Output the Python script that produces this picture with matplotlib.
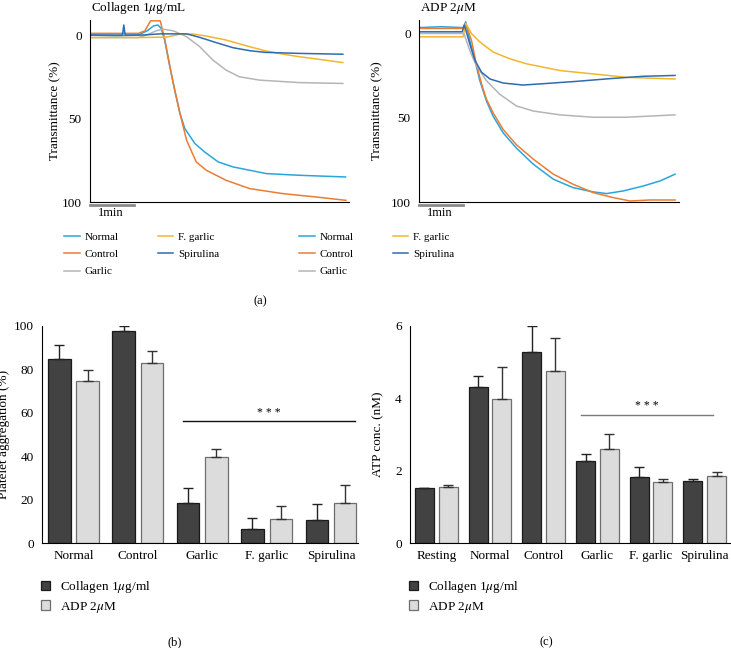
import numpy as np
import matplotlib.pyplot as plt

plt.rcParams['font.family'] = ['Liberation Serif', 'DejaVu Serif']
plt.rcParams['mathtext.fontset'] = 'stix'
plt.rcParams['font.size'] = 9

# ---- (a) aggregation traces, time in min, transmittance in % ----
names = ['Normal', 'Control', 'Garlic', 'F. garlic', 'Spirulina']
colors = ['#2aa5dc', '#ec7c31', '#b5b5b5', '#f2b62e', '#2d6cb0']

coll_normal_t = [0, 0.6, 1.1, 1.3, 1.45, 1.55, 1.62, 1.7, 1.82, 1.93, 2.05, 2.16, 2.39, 2.61, 2.92, 3.26, 3.64, 4.02, 4.77, 5.82]
coll_normal_y = [0, 0.5, 0, -2.5, -5.5, -6, -4, 3, 19, 33, 47, 56, 65, 70, 76, 79, 81, 83, 84, 85]
coll_control_t = [0, 0.6, 1.1, 1.25, 1.38, 1.6, 1.7, 1.82, 1.93, 2.05, 2.2, 2.42, 2.65, 3.1, 3.64, 4.4, 5.15, 5.83]
coll_control_y = [-1, -1, -1, -2.5, -8.5, -8.5, 2, 19, 33, 47, 63, 76, 81, 87, 92, 95, 97, 99]
coll_garlic_t = [0, 0.6, 1.1, 1.3, 1.5, 1.67, 1.9, 2.2, 2.5, 2.8, 3.1, 3.4, 3.86, 4.77, 5.76]
coll_garlic_y = [1.5, 1.5, 1.5, 0, -2.5, -3.5, -2.5, 1, 7, 15, 21, 25, 27, 28.5, 29]
coll_fgarlic_t = [0, 0.6, 1.2, 1.75, 2.05, 2.35, 2.65, 3.1, 3.64, 4.0, 4.4, 4.77, 5.2, 5.76]
coll_fgarlic_y = [1.5, 1.5, 1.5, 1.2, -0.5, -0.6, 0.6, 3, 7, 9.5, 11.5, 13, 14.5, 16.5]
coll_spir_t = [0, 0.74, 0.77, 0.8, 1.2, 1.6, 2.2, 2.5, 2.88, 3.26, 3.64, 4.0, 4.77, 5.76]
coll_spir_y = [0, 0, -6, 0, 0, -0.7, -0.7, 1.4, 4.6, 7.6, 9.4, 10.4, 11, 11.5]

adp_normal_t = [0, 0.5, 1.0, 1.06, 1.15, 1.27, 1.38, 1.53, 1.68, 1.91, 2.21, 2.59, 3.05, 3.5, 3.95, 4.26, 4.64, 5.09, 5.47, 5.81]
adp_normal_y = [-3.5, -4, -3.5, -7, 4, 16, 28, 40, 49, 59, 68, 77.5, 86.5, 91.5, 94, 95, 93.4, 90.5, 87.5, 83.5]
adp_control_t = [0, 0.5, 1.0, 1.06, 1.19, 1.3, 1.42, 1.53, 1.68, 1.91, 2.21, 2.59, 3.05, 3.5, 3.95, 4.41, 4.79, 5.24, 5.81]
adp_control_y = [-3, -3, -3, -6, 4, 18, 30, 39, 47, 57, 66, 74.5, 83.5, 89.5, 94.4, 97.4, 99.4, 98.8, 98.8]
adp_garlic_t = [0, 0.5, 1.02, 1.15, 1.3, 1.53, 1.83, 2.21, 2.59, 3.2, 3.95, 4.7, 5.81]
adp_garlic_y = [0, 0, 0, 10, 19, 28, 36, 43, 46, 48.3, 49.7, 49.7, 48.3]
adp_fgarlic_t = [0, 0.5, 1.0, 1.06, 1.19, 1.38, 1.68, 2.06, 2.44, 3.2, 3.95, 4.7, 5.81]
adp_fgarlic_y = [2, 2, 2, -6, 0, 5, 11, 15, 18, 22, 24, 26, 27]
adp_spir_t = [0, 0.5, 0.98, 1.03, 1.15, 1.27, 1.42, 1.61, 1.91, 2.36, 2.82, 3.58, 4.33, 5.09, 5.81]
adp_spir_y = [-1, -1, -1, -5, 6, 16, 23, 27, 29.4, 30.6, 29.8, 28.4, 26.8, 25.4, 24.9]

coll_traces = [(coll_normal_t, coll_normal_y), (coll_control_t, coll_control_y),
               (coll_garlic_t, coll_garlic_y), (coll_fgarlic_t, coll_fgarlic_y),
               (coll_spir_t, coll_spir_y)]
adp_traces = [(adp_normal_t, adp_normal_y), (adp_control_t, adp_control_y),
              (adp_garlic_t, adp_garlic_y), (adp_fgarlic_t, adp_fgarlic_y),
              (adp_spir_t, adp_spir_y)]

# ---- (b) platelet aggregation (%) ----
agg_groups = ['Normal', 'Control', 'Garlic', 'F. garlic', 'Spirulina']
agg_coll = [84.6, 97.5, 18.6, 6.6, 10.4]
agg_coll_err = [6.5, 2.5, 6.7, 4.9, 7.5]
agg_adp = [74.8, 83.1, 39.5, 11.1, 18.3]
agg_adp_err = [5.0, 5.5, 3.7, 6.1, 8.6]

# ---- (c) ATP release (nM) ----
atp_groups = ['Resting', 'Normal', 'Control', 'Garlic', 'F. garlic', 'Spirulina']
atp_coll = [1.51, 4.31, 5.28, 2.28, 1.83, 1.71]
atp_coll_err = [0.01, 0.32, 0.71, 0.17, 0.26, 0.06]
atp_adp = [1.56, 3.98, 4.76, 2.59, 1.69, 1.86]
atp_adp_err = [0.05, 0.90, 0.91, 0.42, 0.07, 0.09]

W, H = 731, 648
fig = plt.figure(figsize=(W / 100, H / 100), dpi=100)


def box(l, t, r, b):
    return [l / W, 1 - b / H, (r - l) / W, (b - t) / H]


def trace_panel(rect, traces, title, ytop, leg_x, lab_x):
    ax = fig.add_axes(rect)
    for (t, y), c, n in zip(traces, colors, names):
        ax.plot(t, y, color=c, lw=1.1, label=n)
    ax.set_xlim(0, 5.9)
    ax.set_ylim(100, ytop)
    ax.set_yticks([0, 50, 100])
    ax.set_xticks([])
    ax.tick_params(axis='y', length=0, pad=6, labelsize=9.5)
    for s in ['top', 'right']:
        ax.spines[s].set_visible(False)
    ax.set_ylabel('Transmittance (%)', fontsize=9.5)
    ax.yaxis.set_label_coords((lab_x - rect[0] * W) / (rect[2] * W), 0.5)
    fig.text(rect[0] + 0.001, 1 - 11 / H, title, fontsize=9.5, ha='left', va='baseline')
    ax.plot([0, 1], [102, 102], color='#8a8a8a', lw=2, clip_on=False)
    ax.text(0.48, 106.5, '1min', ha='center', va='center', fontsize=9)
    ax.legend(loc='upper left', bbox_to_anchor=(leg_x / W, 1 - 232 / H),
              bbox_transform=fig.transFigure, ncol=2, frameon=False,
              fontsize=8, handlelength=1.4, handletextpad=0.45,
              columnspacing=3.5, labelspacing=0.68, borderpad=0, borderaxespad=0)
    return ax


ax1 = trace_panel(box(90, 20, 349, 202), coll_traces, r'Collagen 1$\mu$g/mL', -9, 64, 61)
ax2 = trace_panel(box(419, 20, 679, 202), adp_traces, r'ADP 2$\mu$M', -8, 299, 383)


def bar_panel(rect, groups, v1, e1, v2, e2, ymax, yticks, ylabel, lab_x,
              sig_y, sig_x, sig_color):
    ax = fig.add_axes(rect)
    x = np.arange(len(groups))
    ax.bar(x - 0.22, v1, 0.35, color='#424242', edgecolor='#1a1a1a', lw=0.9,
           yerr=[np.zeros(len(e1)), e1], capsize=3.5,
           error_kw=dict(ecolor='#222222', elinewidth=1, capthick=1),
           label=r'Collagen 1$\mu$g/ml')
    ax.bar(x + 0.22, v2, 0.35, color='#dcdcdc', edgecolor='#6e6e6e', lw=0.9,
           yerr=[np.zeros(len(e2)), e2], capsize=3.5,
           error_kw=dict(ecolor='#333333', elinewidth=1, capthick=1),
           label=r'ADP 2$\mu$M')
    ax.set_xlim(-0.49, len(groups) - 1 + sig_x[2])
    ax.set_ylim(0, ymax)
    ax.set_yticks(yticks)
    ax.set_xticks(x)
    ax.set_xticklabels(groups)
    ax.tick_params(length=0, labelsize=9.5)
    ax.tick_params(axis='y', pad=6)
    ax.tick_params(axis='x', pad=5)
    for s in ['top', 'right']:
        ax.spines[s].set_visible(False)
    ax.set_ylabel(ylabel, fontsize=9.5)
    ax.yaxis.set_label_coords((lab_x - rect[0] * W) / (rect[2] * W), 0.5)
    ax.plot([sig_x[0], sig_x[1]], [sig_y, sig_y], color=sig_color, lw=1)
    ax.text((sig_x[0] + sig_x[1]) / 2, sig_y + ymax * 0.012, '* * *', ha='center',
            va='bottom', fontsize=8.5)
    ax.legend(loc='upper left', bbox_to_anchor=(rect[0] - 0.002, 1 - 579 / H),
              bbox_transform=fig.transFigure, frameon=False, fontsize=9.5,
              handlelength=0.75, handleheight=0.75, handletextpad=0.7,
              labelspacing=0.35, borderpad=0, borderaxespad=0)
    return ax


ax3 = bar_panel(box(42, 326, 358, 543), agg_groups, agg_coll, agg_coll_err,
                agg_adp, agg_adp_err, 100, [0, 20, 40, 60, 80, 100],
                'Platelet aggregation (%)', 10.5, 56.1, (1.7, 4.38, 0.42), '#111111')
ax4 = bar_panel(box(410, 326, 731, 543), atp_groups, atp_coll, atp_coll_err,
                atp_adp, atp_adp_err, 6, [0, 2, 4, 6],
                'ATP conc. (nM)', 384, 3.54, (2.7, 5.15, 0.49), '#7a7a7a')

fig.text(260 / W, 1 - 301 / H, '(a)', ha='center', va='center', fontsize=9)
fig.text(175 / W, 1 - 642 / H, '(b)', ha='center', va='center', fontsize=9)
fig.text(546 / W, 1 - 642 / H, '(c)', ha='center', va='center', fontsize=9)

fig.savefig('out.png', dpi=100)
